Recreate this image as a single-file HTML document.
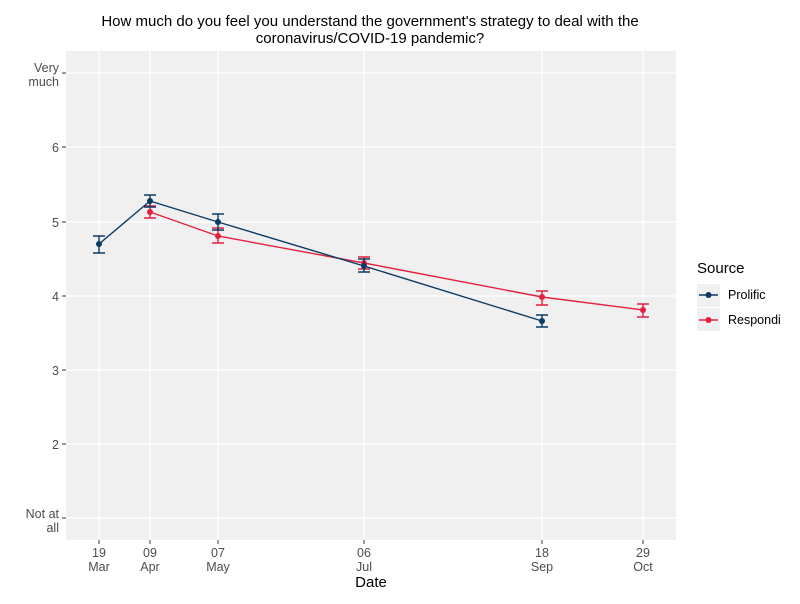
<!DOCTYPE html>
<html><head><meta charset="utf-8"><style>body{margin:0;background:#fff}</style></head>
<body>
<svg width="800" height="599" xmlns="http://www.w3.org/2000/svg" font-family="Liberation Sans, Arial, sans-serif">
<rect width="800" height="599" fill="#fff"/>
<text x="370" y="26" font-size="15" text-anchor="middle" fill="#000">How much do you feel you understand the government's strategy to deal with the</text>
<text x="370" y="43" font-size="15" text-anchor="middle" fill="#000">coronavirus/COVID-19 pandemic?</text>
<rect x="66" y="51" width="610" height="489" fill="#f0f0f0"/>
<g stroke="#fff" stroke-width="1.2">
<line x1="66" x2="676" y1="73" y2="73"/><line x1="66" x2="676" y1="147" y2="147"/><line x1="66" x2="676" y1="222" y2="222"/><line x1="66" x2="676" y1="296" y2="296"/><line x1="66" x2="676" y1="370" y2="370"/><line x1="66" x2="676" y1="444" y2="444"/><line x1="66" x2="676" y1="518" y2="518"/>
<line x1="99" x2="99" y1="51" y2="540"/><line x1="150" x2="150" y1="51" y2="540"/><line x1="218" x2="218" y1="51" y2="540"/><line x1="364" x2="364" y1="51" y2="540"/><line x1="542" x2="542" y1="51" y2="540"/><line x1="643" x2="643" y1="51" y2="540"/>
</g>
<g stroke="#333" stroke-width="1">
<line x1="62" x2="66" y1="73" y2="73"/><line x1="62" x2="66" y1="147" y2="147"/><line x1="62" x2="66" y1="222" y2="222"/><line x1="62" x2="66" y1="296" y2="296"/><line x1="62" x2="66" y1="370" y2="370"/><line x1="62" x2="66" y1="444" y2="444"/><line x1="62" x2="66" y1="518" y2="518"/>
<line x1="99" x2="99" y1="540" y2="544"/><line x1="150" x2="150" y1="540" y2="544"/><line x1="218" x2="218" y1="540" y2="544"/><line x1="364" x2="364" y1="540" y2="544"/><line x1="542" x2="542" y1="540" y2="544"/><line x1="643" x2="643" y1="540" y2="544"/>
</g>
<g font-size="12.5" fill="#4d4d4d" text-anchor="end">
<text x="59" y="72">Very</text><text x="59" y="86">much</text>
<text x="59" y="152">6</text><text x="59" y="227">5</text><text x="59" y="301">4</text><text x="59" y="375">3</text><text x="59" y="449">2</text>
<text x="59" y="518">Not at</text><text x="59" y="532">all</text>
</g>
<g font-size="12.5" fill="#4d4d4d" text-anchor="middle">
<text x="99" y="557">19</text><text x="99" y="571">Mar</text>
<text x="150" y="557">09</text><text x="150" y="571">Apr</text>
<text x="218" y="557">07</text><text x="218" y="571">May</text>
<text x="364" y="557">06</text><text x="364" y="571">Jul</text>
<text x="542" y="557">18</text><text x="542" y="571">Sep</text>
<text x="643" y="557">29</text><text x="643" y="571">Oct</text>
</g>
<text x="371" y="587" font-size="15" text-anchor="middle">Date</text>
<g stroke="#e3203f" stroke-width="1.4" fill="none">
<polyline points="150,212 218,236 364,263 542,297 643,310"/>
<path d="M150,206V218M144,206H156M144,218H156 M218,228V243M212,228H224M212,243H224 M364,257V269M358,257H370M358,269H370 M542,291V305M536,291H548M536,305H548 M643,304V317M637,304H649M637,317H649"/>
</g>
<g fill="#e3203f"><circle cx="150" cy="212" r="3"/><circle cx="218" cy="236" r="3"/><circle cx="364" cy="263" r="3"/><circle cx="542" cy="297" r="3"/><circle cx="643" cy="310" r="3"/></g>
<g stroke="#0b3a63" stroke-width="1.4" fill="none">
<polyline points="99,244 150,201 218,222 364,266 542,321"/>
<path d="M99,236V253M93,236H105M93,253H105 M150,195V207M144,195H156M144,207H156 M218,214V230M212,214H224M212,230H224 M364,259V272M358,259H370M358,272H370 M542,315V327M536,315H548M536,327H548"/>
</g>
<g fill="#0b3a63"><circle cx="99" cy="244" r="3"/><circle cx="150" cy="201" r="3"/><circle cx="218" cy="222" r="3"/><circle cx="364" cy="266" r="3"/><circle cx="542" cy="321" r="3"/></g>
<text x="697" y="273" font-size="15">Source</text>
<rect x="697" y="284" width="23" height="23" fill="#f0f0f0"/>
<rect x="697" y="308" width="23" height="23" fill="#f0f0f0"/>
<line x1="699" x2="718" y1="295" y2="295" stroke="#0b3a63" stroke-width="1.4"/><circle cx="708.5" cy="295" r="3" fill="#0b3a63"/>
<line x1="699" x2="718" y1="320" y2="320" stroke="#e3203f" stroke-width="1.4"/><circle cx="708.5" cy="320" r="3" fill="#e3203f"/>
<text x="728" y="299" font-size="12.5">Prolific</text>
<text x="728" y="324" font-size="12.5">Respondi</text>
</svg>
</body></html>
